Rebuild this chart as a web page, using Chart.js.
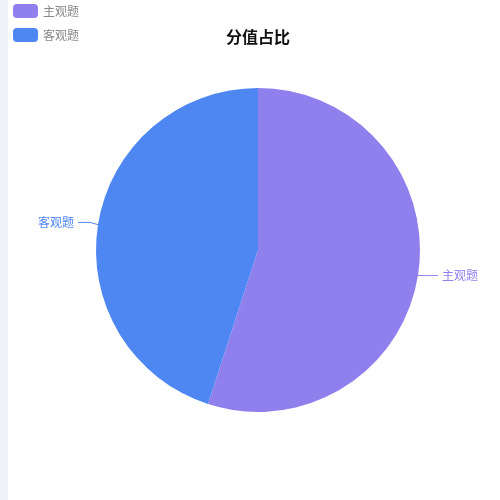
<!DOCTYPE html>
<html><head><meta charset="utf-8">
<script src="https://cdn.jsdelivr.net/npm/chart.js@4"></script>
<style>
html,body{margin:0;padding:0;background:#fff;}
#strip{position:absolute;left:0;top:0;width:8px;height:500px;background:#f1f2f7;}
#wrap{position:absolute;left:0;top:0;width:500px;height:500px;}
</style></head>
<body>
<div id="strip"></div>
<div id="wrap"><canvas id="c" width="500" height="500"></canvas></div>
<script>
const categories = ['主观题', '客观题'];
const values = [55, 45];
const colors = ['#9080ED', '#4F87F2'];
const titleText = '分值占比';
const FONT = '"Noto Sans CJK SC", "Noto Sans", sans-serif';

const overlay = {
  id: 'overlay',
  afterDraw(chart) {
    const ctx = chart.ctx;
    ctx.save();
    ctx.fillStyle = '#111';
    ctx.font = 'bold 16px ' + FONT;
    ctx.textAlign = 'center';
    ctx.textBaseline = 'middle';
    ctx.fillText(titleText, 258, 37);
    categories.forEach((c, i) => {
      const y = 11 + i * 24;
      ctx.fillStyle = colors[i];
      ctx.beginPath();
      ctx.roundRect(13, y - 7, 25, 14, 4);
      ctx.fill();
      ctx.fillStyle = '#888';
      ctx.font = '12px ' + FONT;
      ctx.textAlign = 'left';
      ctx.textBaseline = 'middle';
      ctx.fillText(c, 43, y);
    });
    const meta = chart.getDatasetMeta(0);
    meta.data.forEach((arc, i) => {
      const p = arc.getProps(['x','y','startAngle','endAngle','outerRadius'], true);
      const mid = (p.startAngle + p.endAngle) / 2;
      const cos = Math.cos(mid), sin = Math.sin(mid);
      const x0 = p.x + cos * p.outerRadius, y0 = p.y + sin * p.outerRadius;
      const x1 = p.x + cos * (p.outerRadius + 8), y1 = p.y + sin * (p.outerRadius + 8) - 1;
      const dir = cos >= 0 ? 1 : -1;
      const x2 = x1 + dir * 12;
      ctx.strokeStyle = colors[i];
      ctx.lineWidth = 1;
      ctx.beginPath();
      ctx.moveTo(x0, y0); ctx.lineTo(x1, y1); ctx.lineTo(x2, y1);
      ctx.stroke();
      ctx.fillStyle = colors[i];
      ctx.font = '12px ' + FONT;
      ctx.textAlign = dir > 0 ? 'left' : 'right';
      ctx.textBaseline = 'middle';
      ctx.fillText(categories[i], x2 + dir * 4, y1);
    });
    ctx.restore();
  }
};

new Chart(document.getElementById('c'), {
  type: 'pie',
  data: { labels: categories, datasets: [{ data: values, backgroundColor: colors, borderWidth: 0 }] },
  options: {
    responsive: false,
    animation: false,
    layout: { padding: { left: 96, right: 80, top: 88, bottom: 88 } },
    plugins: { legend: { display: false }, title: { display: false }, tooltip: { enabled: false } }
  },
  plugins: [overlay]
});
</script>
</body></html>
